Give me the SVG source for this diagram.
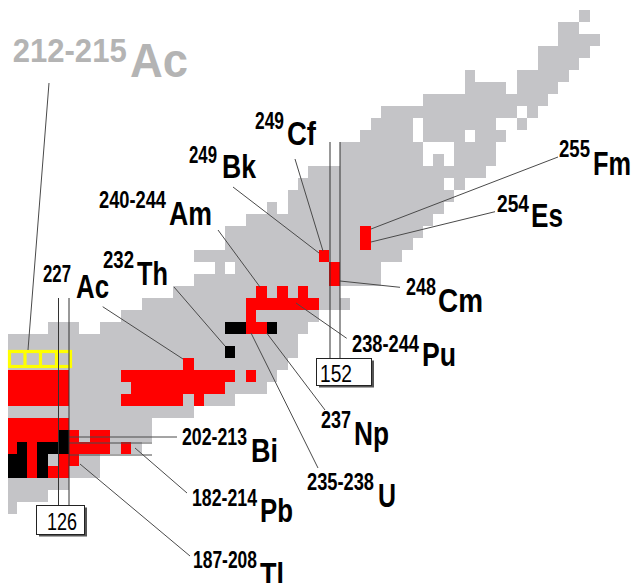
<svg xmlns="http://www.w3.org/2000/svg" width="636" height="583" viewBox="0 0 636 583">
<defs>
<style>
.g{fill:#c4c4c7}
.r{fill:#ff0000}
.k{fill:#000000}
.ld{stroke:#4a4a4a;stroke-width:1;fill:none}
.br{stroke:#333;stroke-width:1;fill:none}
.s{font-family:"Liberation Sans",Arial,sans-serif;font-weight:bold;font-size:23px;fill:#000}
.e{font-family:"Liberation Sans",Arial,sans-serif;font-weight:bold;font-size:33px;fill:#000}
.bx{font-family:"Liberation Sans",Arial,sans-serif;font-size:23px;fill:#000}
</style>
<clipPath id="cl"><rect x="8" y="0" width="628" height="583"/></clipPath>
</defs>
<rect x="0" y="0" width="636" height="583" fill="#fff"/>
<g id="chart" clip-path="url(#cl)">
<g transform="translate(6.18,10) scale(10.42,12)" shape-rendering="crispEdges">
<g id="gray" class="g">
<rect x="55" y="0" width="1" height="1"/>
<rect x="53" y="1" width="2" height="1"/>
<rect x="53" y="2" width="4" height="1"/>
<rect x="51" y="3" width="5" height="1"/>
<rect x="51" y="4" width="4" height="1"/>
<rect x="44" y="5" width="1" height="1"/><rect x="49" y="5" width="5" height="1"/>
<rect x="44" y="6" width="4" height="1"/><rect x="49" y="6" width="4" height="1"/>
<rect x="40" y="7" width="12" height="1"/>
<rect x="36" y="8" width="13" height="1"/><rect x="50" y="8" width="1" height="1"/>
<rect x="35" y="9" width="4" height="1"/><rect x="40" y="9" width="7" height="1"/><rect x="49" y="9" width="1" height="1"/>
<rect x="34" y="10" width="5" height="1"/><rect x="40" y="10" width="4" height="1"/><rect x="45" y="10" width="3" height="1"/>
<rect x="32" y="11" width="8" height="1"/><rect x="43" y="11" width="4" height="1"/>
<rect x="32" y="12" width="8" height="1"/><rect x="41" y="12" width="1" height="1"/><rect x="43" y="12" width="4" height="1"/>
<rect x="29" y="13" width="17" height="1"/>
<rect x="28" y="14" width="14" height="1"/><rect x="43" y="14" width="1" height="1"/>
<rect x="27" y="15" width="16" height="1"/>
<rect x="25" y="16" width="1" height="1"/><rect x="27" y="16" width="15" height="1"/>
<rect x="23" y="17" width="18" height="1"/>
<rect x="21" y="18" width="19" height="1"/>
<rect x="21" y="19" width="18" height="1"/>
<rect x="18" y="20" width="20" height="1"/>
<rect x="20" y="21" width="1" height="1"/><rect x="22" y="21" width="14" height="1"/>
<rect x="18" y="22" width="18" height="1"/>
<rect x="16" y="23" width="16" height="1"/>
<rect x="13" y="24" width="20" height="1"/>
<rect x="11" y="25" width="19" height="1"/>
<rect x="4" y="26" width="3" height="1"/><rect x="9" y="26" width="20" height="1"/>
<rect x="0" y="27" width="28" height="2"/>
<rect x="0" y="29" width="27" height="1"/>
<rect x="0" y="30" width="26" height="1"/>
<rect x="0" y="31" width="25" height="1"/>
<rect x="0" y="32" width="22" height="1"/>
<rect x="0" y="33" width="18" height="1"/>
<rect x="0" y="34" width="14" height="2"/>
<rect x="0" y="36" width="13" height="1"/>
<rect x="0" y="37" width="9" height="2"/>
<rect x="0" y="39" width="6" height="1"/>
<rect x="0" y="40" width="4" height="1"/>
<rect x="0" y="41" width="1" height="1"/>
</g>
<g id="red" class="r">
<rect x="34" y="18" width="1" height="2"/>
<rect x="30" y="20" width="1" height="1"/>
<rect x="31" y="21" width="1" height="2"/>
<rect x="24" y="23" width="1" height="1"/><rect x="26" y="23" width="1" height="1"/><rect x="28" y="23" width="1" height="1"/>
<rect x="23" y="24" width="7" height="1"/>
<rect x="23" y="25" width="1" height="1"/>
<rect x="23" y="26" width="2" height="1"/>
<rect x="17" y="29" width="1" height="1"/>
<rect x="11" y="30" width="11" height="1"/><rect x="23" y="30" width="1" height="1"/>
<rect x="12" y="31" width="9" height="1"/>
<rect x="11" y="32" width="6" height="1"/><rect x="18" y="32" width="1" height="1"/>
<rect x="0" y="30" width="6" height="3"/>
<rect x="0" y="34" width="6" height="1"/>
<rect x="0" y="35" width="5" height="1"/><rect x="6" y="35" width="1" height="1"/><rect x="8" y="35" width="2" height="1"/>
<rect x="0" y="36" width="1" height="1"/><rect x="2" y="36" width="1" height="1"/><rect x="6" y="36" width="4" height="1"/><rect x="11" y="36" width="1" height="1"/>
<rect x="2" y="37" width="1" height="1"/><rect x="5" y="37" width="2" height="1"/>
<rect x="2" y="38" width="1" height="1"/><rect x="4" y="38" width="2" height="1"/>
</g>
<g id="black" class="k">
<rect x="21" y="26" width="2" height="1"/><rect x="25" y="26" width="1" height="1"/>
<rect x="21" y="28" width="1" height="1"/>
<rect x="5" y="35" width="1" height="1"/>
<rect x="1" y="36" width="1" height="1"/><rect x="3" y="36" width="3" height="1"/>
<rect x="0" y="37" width="2" height="2"/><rect x="3" y="37" width="1" height="2"/>
</g>
</g>
</g>
<g id="ac212-box">
<rect x="9.5" y="351.5" width="61" height="15" fill="none" stroke="#ffff00" stroke-width="3.2"/>
<line x1="25" y1="351.5" x2="25" y2="366.5" stroke="#ffff00" stroke-width="3.2"/>
<line x1="40.5" y1="351.5" x2="40.5" y2="366.5" stroke="#ffff00" stroke-width="3.2"/>
<line x1="56.5" y1="351.5" x2="56.5" y2="366.5" stroke="#ffff00" stroke-width="3.2"/>
</g>
<g id="connectors">
<line class="ld" x1="49" y1="83" x2="28" y2="350"/>
<line class="ld" x1="295" y1="159" x2="323" y2="251"/>
<line class="ld" x1="233" y1="187" x2="319" y2="253"/>
<line class="ld" x1="218" y1="230" x2="260" y2="287"/>
<line class="ld" x1="174" y1="287" x2="225" y2="346"/>
<line class="ld" x1="102.7" y1="306.7" x2="183" y2="359"/>
<line class="ld" x1="558" y1="157" x2="371" y2="229"/>
<line class="ld" x1="495" y1="211.7" x2="371" y2="242"/>
<line class="ld" x1="400" y1="287.3" x2="340" y2="281"/>
<line class="ld" x1="346.7" y1="338.3" x2="296" y2="303"/>
<line class="ld" x1="325" y1="410" x2="266.7" y2="333"/>
<line class="ld" x1="318" y1="468" x2="251" y2="333"/>
<line class="ld" x1="177" y1="437" x2="69" y2="437"/>
<line class="ld" x1="152" y1="443" x2="69" y2="443"/>
<line class="ld" x1="152" y1="455" x2="69" y2="455"/>
<line class="ld" x1="187" y1="493" x2="135" y2="448"/>
<line class="ld" x1="190" y1="556" x2="80" y2="464"/>
<line class="br" x1="58.5" y1="298" x2="58.5" y2="505"/>
<line class="br" x1="69" y1="298" x2="69" y2="505"/>
<line class="br" x1="330" y1="142" x2="330" y2="358"/>
<line class="br" x1="340" y1="142" x2="340" y2="358"/>
</g>
<g id="box152">
<rect x="319" y="360.5" width="55" height="27" fill="#555"/>
<rect x="316.5" y="358.5" width="55" height="27" fill="#fff" stroke="#222" stroke-width="1"/>
<text class="bx" x="320" y="382" textLength="32" lengthAdjust="spacingAndGlyphs">152</text>
</g>
<g id="box126">
<rect x="39" y="507.5" width="48" height="29" fill="#555"/>
<rect x="36.5" y="505.5" width="48" height="29" fill="#fff" stroke="#222" stroke-width="1"/>
<text class="bx" x="47" y="530" textLength="30" lengthAdjust="spacingAndGlyphs">126</text>
</g>
<g id="label-ac212">
<text x="12.7" y="62" font-family="Liberation Sans, Arial, sans-serif" font-weight="bold" font-size="33" fill="#b4b4b4" textLength="114" lengthAdjust="spacingAndGlyphs">212-215</text>
<text x="130" y="77" font-family="Liberation Sans, Arial, sans-serif" font-weight="bold" font-size="48" fill="#b4b4b4" textLength="58" lengthAdjust="spacingAndGlyphs">Ac</text>
</g>
<g id="label-cf"><text class="s" x="255" y="129" textLength="29" lengthAdjust="spacingAndGlyphs">249</text><text class="e" x="287" y="145" textLength="29" lengthAdjust="spacingAndGlyphs">Cf</text></g>
<g id="label-bk"><text class="s" x="189" y="163" textLength="28" lengthAdjust="spacingAndGlyphs">249</text><text class="e" x="222" y="178" textLength="34" lengthAdjust="spacingAndGlyphs">Bk</text></g>
<g id="label-am"><text class="s" x="99" y="208" textLength="67" lengthAdjust="spacingAndGlyphs">240-244</text><text class="e" x="169" y="225" textLength="43" lengthAdjust="spacingAndGlyphs">Am</text></g>
<g id="label-ac227"><text class="s" x="43" y="282" textLength="28" lengthAdjust="spacingAndGlyphs">227</text><text class="e" x="76" y="298" textLength="33" lengthAdjust="spacingAndGlyphs">Ac</text></g>
<g id="label-th"><text class="s" x="103" y="268" textLength="31" lengthAdjust="spacingAndGlyphs">232</text><text class="e" x="137" y="285" textLength="31" lengthAdjust="spacingAndGlyphs">Th</text></g>
<g id="label-fm"><text class="s" x="559" y="157" textLength="31" lengthAdjust="spacingAndGlyphs">255</text><text class="e" x="593" y="175" textLength="38" lengthAdjust="spacingAndGlyphs">Fm</text></g>
<g id="label-es"><text class="s" x="497" y="212" textLength="32" lengthAdjust="spacingAndGlyphs">254</text><text class="e" x="531" y="227" textLength="32" lengthAdjust="spacingAndGlyphs">Es</text></g>
<g id="label-cm"><text class="s" x="406" y="295" textLength="30" lengthAdjust="spacingAndGlyphs">248</text><text class="e" x="438" y="312" textLength="45" lengthAdjust="spacingAndGlyphs">Cm</text></g>
<g id="label-pu"><text class="s" x="352" y="352" textLength="67" lengthAdjust="spacingAndGlyphs">238-244</text><text class="e" x="422" y="366" textLength="34" lengthAdjust="spacingAndGlyphs">Pu</text></g>
<g id="label-np"><text class="s" x="321" y="428" textLength="30" lengthAdjust="spacingAndGlyphs">237</text><text class="e" x="354" y="445" textLength="35" lengthAdjust="spacingAndGlyphs">Np</text></g>
<g id="label-u"><text class="s" x="307" y="490" textLength="67" lengthAdjust="spacingAndGlyphs">235-238</text><text class="e" x="378" y="507" textLength="18" lengthAdjust="spacingAndGlyphs">U</text></g>
<g id="label-bi"><text class="s" x="182" y="445" textLength="65" lengthAdjust="spacingAndGlyphs">202-213</text><text class="e" x="251" y="462" textLength="27" lengthAdjust="spacingAndGlyphs">Bi</text></g>
<g id="label-pb"><text class="s" x="192" y="506" textLength="65" lengthAdjust="spacingAndGlyphs">182-214</text><text class="e" x="260" y="522" textLength="33" lengthAdjust="spacingAndGlyphs">Pb</text></g>
<g id="label-tl"><text class="s" x="193" y="568" textLength="64" lengthAdjust="spacingAndGlyphs">187-208</text><text class="e" x="260" y="586" textLength="24" lengthAdjust="spacingAndGlyphs">Tl</text></g>
</svg>
